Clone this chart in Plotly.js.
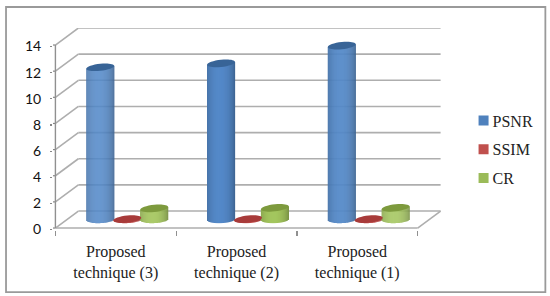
<!DOCTYPE html>
<html>
<head>
<meta charset="utf-8">
<script src="https://cdn.plot.ly/plotly-3.0.1.min.js"></script>
<style>html,body{margin:0;padding:0;background:#fff}#chart{width:550px;height:296px}</style>
</head>
<body>
<div id="chart"></div>
<script>
const categories = ['Proposed<br>technique (3)', 'Proposed<br>technique (2)', 'Proposed<br>technique (1)'];
const psnr = [11.65, 11.95, 13.3];
const ssim = [0.03, 0.03, 0.03];
const cr = [0.85, 0.9, 0.9];
const yTicks = [0, 2, 4, 6, 8, 10, 12, 14];
const seriesNames = ['PSNR', 'SSIM', 'CR'];
const seriesColors = ['#4f81bd', '#c0504d', '#9bbb59'];
const capColors = ['#386497', '#a83b3a', '#7d9a3d'];

// Scale of the chart, px per data unit, and its oblique depth.
const PXX = 121, PXY = 13.07;
const L = 55 - 0.02 * PXX, R = 441 + 0.02 * PXX, B = 228 + 0.15 * PXY, T = 28;
const xRange = [-0.52, 2.71], yRange = [-0.15, (228 - T) / PXY];
const depthX = 23 / PXX, depthY = 17 / PXY;
const RX = 14 / PXX, RY = 3.6 / PXY, SH = 1.4 / PXY;
const barStep = 27 / PXX;

function shade(hex, f) {
  const n = parseInt(hex.slice(1), 16);
  const c = [n >> 16, (n >> 8) & 255, n & 255].map(v => Math.max(0, Math.min(255, Math.round(v * f))));
  return 'rgb(' + c.join(',') + ')';
}
function bodyFactor(u) {
  const w = Math.cos((u + 0.1) * Math.PI / 2.25);
  return 0.68 + 0.38 * Math.pow(Math.max(w, 0), 0.5);
}
function capPath(cx, cy) {
  const k = 0.5523;
  const p = (a, b) => (cx + a * RX) + ',' + (cy + b * RY + a * SH);
  return 'M' + p(-1, 0) + ' C' + p(-1, k) + ' ' + p(-k, 1) + ' ' + p(0, 1) +
    ' C' + p(k, 1) + ' ' + p(1, k) + ' ' + p(1, 0) +
    ' C' + p(1, -k) + ' ' + p(k, -1) + ' ' + p(0, -1) +
    ' C' + p(-k, -1) + ' ' + p(-1, -k) + ' ' + p(-1, 0) + ' Z';
}

const lineStyle = {color: '#aeaeae', width: 1.6};
const shapes = [];
function addLine(x0, y0, x1, y1, line) {
  shapes.push({type: 'line', xref: 'x', yref: 'y', layer: 'below', x0, y0, x1, y1, line: line || lineStyle});
}
yTicks.forEach(v => {
  addLine(-0.5, v, -0.5 + depthX, v + depthY);
  addLine(-0.5 + depthX, v + depthY, 2.5 + depthX, v + depthY);
  addLine(-0.52, v, -0.5, v, {color: '#868686', width: 1.2});
});
addLine(-0.5, 0, 2.5, 0);
addLine(2.5, 0, 2.5 + depthX, depthY);
addLine(-0.5, 0, -0.5, yTicks[yTicks.length - 1], {color: '#909090', width: 1.4});

const traces = [];
[psnr, ssim, cr].forEach((vals, s) => {
  const xs = [], bases = [], heights = [], colors = [];
  const N = 28;
  vals.forEach((v, c) => {
    const cx = c + depthX / 2 + (s - 1) * barStep, cy = depthY / 2;
    for (let i = 0; i < N; i++) {
      const u = (i + 0.5) / N * 2 - 1;
      const bottom = cy - RY * Math.sqrt(1 - u * u) + u * SH * 0.4;
      const top = cy + v + u * SH;
      xs.push(cx + u * RX);
      bases.push(bottom);
      heights.push(top - bottom);
      colors.push(shade(seriesColors[s], bodyFactor(u)));
    }
    shapes.push({type: 'path', xref: 'x', yref: 'y', layer: 'above',
      path: capPath(cx, cy + v), fillcolor: capColors[s], line: {width: 0}});
  });
  traces.push({type: 'bar', x: xs, y: heights, base: bases, width: 1.2 / PXX,
    marker: {color: colors, line: {width: 0}}, showlegend: false, hoverinfo: 'skip'});
});
seriesNames.forEach((name, s) => {
  traces.push({type: 'scatter', mode: 'markers', x: [null], y: [null], name, legendgroup: name,
    marker: {symbol: 'square', size: 10, color: seriesColors[s]}});
});

const w = R - L, h = B - T;
shapes.push({type: 'rect', xref: 'paper', yref: 'paper', layer: 'below',
  x0: (5.5 - L) / w, x1: (546 - L) / w, y0: (B - 292) / h, y1: (B - 7) / h,
  line: {color: '#9a9a9a', width: 1.8}});

const layout = {
  width: 550, height: 296,
  margin: {l: L, r: 550 - R, t: T, b: 296 - B, pad: 0, autoexpand: false},
  paper_bgcolor: '#fff', plot_bgcolor: 'rgba(0,0,0,0)',
  barmode: 'overlay', showlegend: true,
  xaxis: {
    type: 'linear', range: xRange, fixedrange: true, showgrid: false, zeroline: false, showline: false,
    automargin: false,
    tickmode: 'array', tickvals: [0, 1, 2], ticktext: categories, ticks: '', ticklabelstandoff: 10,
    tickfont: {family: '"Liberation Serif", serif', size: 16, color: '#222'},
    minor: {tickmode: 'array', tickvals: [-0.5, 0.5, 1.5, 2.5], ticks: 'outside', ticklen: 5, tickcolor: '#909090', tickwidth: 1.3, showgrid: false}
  },
  yaxis: {
    range: yRange, fixedrange: true, showgrid: false, zeroline: false, showline: false,
    automargin: false,
    tickmode: 'array', tickvals: yTicks, ticks: 'outside', ticklen: 2, tickcolor: '#868686', tickwidth: 1.2,
    ticklabelstandoff: 6,
    tickfont: {family: 'Lato, sans-serif', size: 14, color: '#111'}
  },
  legend: {
    x: (453 - L) / w, xanchor: 'left', y: (B - 149.5) / h, yanchor: 'middle',
    font: {family: '"Liberation Serif", serif', size: 16, color: '#222'},
    tracegroupgap: 5, itemclick: false, itemdoubleclick: false, bgcolor: 'rgba(0,0,0,0)'
  },
  shapes
};
Plotly.newPlot('chart', traces, layout, {displayModeBar: false, staticPlot: true}).then(() => {
  document.querySelectorAll('.legend .legendsymbols').forEach(g => g.setAttribute('transform', 'translate(11,0)'));
  document.querySelectorAll('.yaxislayer-above').forEach(g => g.setAttribute('transform', 'translate(0,1.5)'));
});
</script>
</body>
</html>
